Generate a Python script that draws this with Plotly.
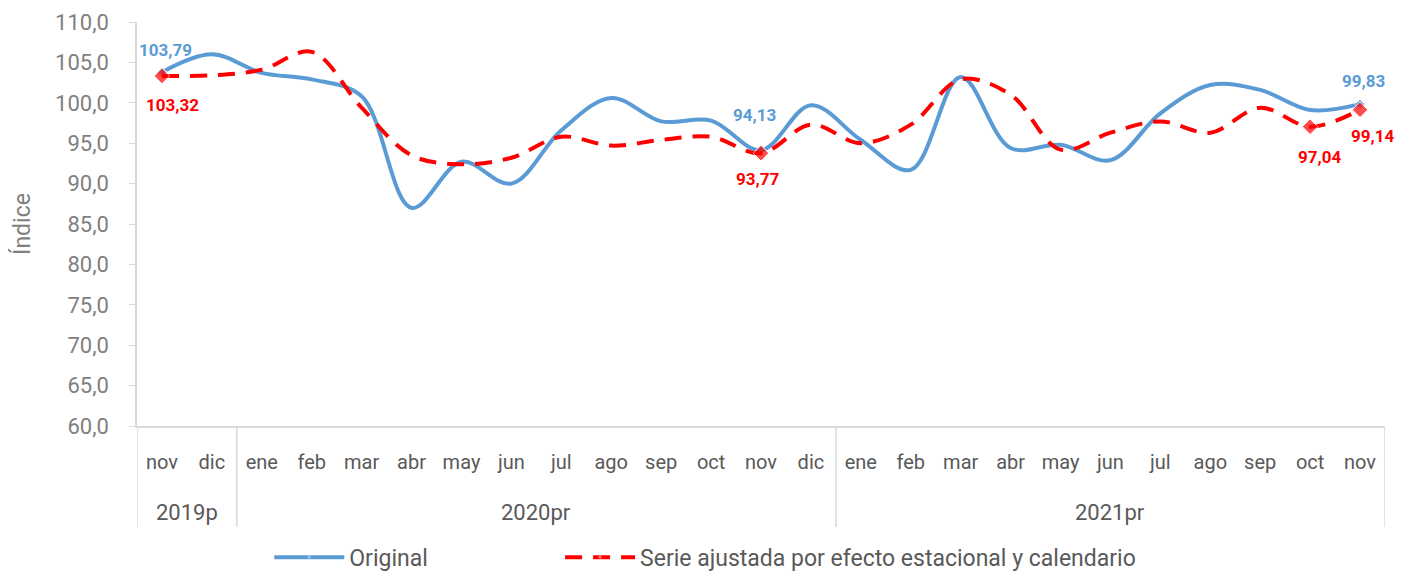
import plotly.graph_objects as go

years = ["2019p", "2020pr", "2021pr"]
year_counts = [2, 12, 11]
months = ["nov", "dic",
          "ene", "feb", "mar", "abr", "may", "jun", "jul", "ago", "sep", "oct", "nov", "dic",
          "ene", "feb", "mar", "abr", "may", "jun", "jul", "ago", "sep", "oct", "nov"]

original = [103.79, 106.0,
            103.7, 102.9, 100.8, 87.0, 92.7, 90.0, 96.6, 100.6, 97.7, 97.8, 94.13, 99.7,
            95.4, 91.7, 103.2, 94.4, 94.8, 92.9, 98.7, 102.2, 101.6, 99.1, 99.83]

ajustada = [103.32, 103.4,
            104.1, 106.3, 99.4, 93.5, 92.4, 93.2, 95.8, 94.7, 95.4, 95.8, 93.77, 97.3,
            95.0, 97.3, 102.9, 101.0, 94.2, 96.3, 97.7, 96.3, 99.4, 97.04, 99.14]

# indices of labelled points
orig_label_idx = [0, 12, 24]
adj_label_idx = [0, 12, 23, 24]

BLUE = "#5B9BD5"
RED = "#FF0000"
GRID = "#D9D9D9"
FONT = "Roboto"

n = len(months)
xs = list(range(n))

orig_msize = [8 if i in orig_label_idx else 0 for i in range(n)]
adj_msize = [12 if i in adj_label_idx else 0 for i in range(n)]


def fmt(v):
    return f"{v:.2f}".replace(".", ",")


fig = go.Figure()
fig.add_trace(go.Scatter(
    x=xs, y=original, name="Original",
    mode="lines+markers",
    line=dict(color=BLUE, width=4, shape="spline", smoothing=1.0),
    marker=dict(symbol="diamond", size=orig_msize, color=BLUE),
    cliponaxis=False,
    legend="legend",
))
fig.add_trace(go.Scatter(
    x=xs, y=ajustada, name="Serie ajustada por efecto estacional y calendario",
    mode="lines+markers",
    line=dict(color=RED, width=4, dash="17px,11px", shape="spline", smoothing=1.0),
    marker=dict(symbol="diamond", size=adj_msize, color=RED),
    cliponaxis=False,
    legend="legend2",
))

annotations = []
# data labels (offsets in pixels relative to the point)
orig_shift = {0: (4, 22), 12: (-7, 35), 24: (3, 23)}
adj_shift = {0: (11, -29), 12: (-4, -26), 23: (9, -30), 24: (12, -26)}
for i in orig_label_idx:
    dx, dy = orig_shift[i]
    annotations.append(dict(x=i, y=original[i], xref="x", yref="y", text=fmt(original[i]),
                            showarrow=False, xshift=dx, yshift=dy,
                            font=dict(size=17, color=BLUE, family=FONT, weight="bold")))
for i in adj_label_idx:
    dx, dy = adj_shift[i]
    annotations.append(dict(x=i, y=ajustada[i], xref="x", yref="y", text=fmt(ajustada[i]),
                            showarrow=False, xshift=dx, yshift=dy,
                            font=dict(size=17, color=RED, family=FONT, weight="bold")))

# year group labels and dividers below the category axis
shapes = []
start = 0
bounds = [-0.5]
for yr, cnt in zip(years, year_counts):
    center = start + (cnt - 1) / 2
    annotations.append(dict(x=center, xref="x", y=-0.215, yref="paper",
                            text=yr, showarrow=False, yanchor="middle",
                            font=dict(size=22, color="#595959", family=FONT)))
    start += cnt
    bounds.append(start - 0.5)
for b in bounds:
    shapes.append(dict(type="line", xref="x", yref="paper", x0=b, x1=b,
                       y0=0, y1=-0.25, line=dict(color=GRID, width=1.5)))

leg_common = dict(orientation="h", yanchor="middle", y=-0.325,
                  font=dict(size=23, color="#595959", family=FONT),
                  itemwidth=70, bgcolor="rgba(0,0,0,0)")

fig.update_layout(
    width=1394, height=567,
    margin=dict(l=129, r=17, t=14, b=149, autoexpand=False),
    plot_bgcolor="white", paper_bgcolor="white",
    separators=",.",
    font=dict(family=FONT, color="#595959", size=18),
    showlegend=True,
    legend=dict(x=0.106, xanchor="left", **leg_common),
    legend2=dict(x=0.339, xanchor="left", **leg_common),
    shapes=shapes,
    annotations=annotations,
    xaxis=dict(
        range=[-0.5, n - 0.5], automargin=False,
        tickmode="array", tickvals=xs, ticktext=months,
        showline=True, linecolor=GRID, linewidth=1.5,
        showgrid=False, zeroline=False,
        ticks="outside", ticklen=17, tickcolor="rgba(0,0,0,0)",
        tickfont=dict(size=20, color="#595959", family=FONT),
    ),
    yaxis=dict(
        range=[60, 110], dtick=5, tickformat=".1f", automargin=False,
        showline=True, linecolor=GRID, linewidth=1.5,
        ticks="outside", ticklen=6, tickcolor=GRID,
        ticklabelstandoff=16,
        showgrid=False, zeroline=False,
        tickfont=dict(size=22, color="#7F7F7F", family=FONT),
        title=dict(text="Índice", font=dict(size=23, color="#7F7F7F", family=FONT), standoff=18),
    ),
)

fig.write_html("out.html")
